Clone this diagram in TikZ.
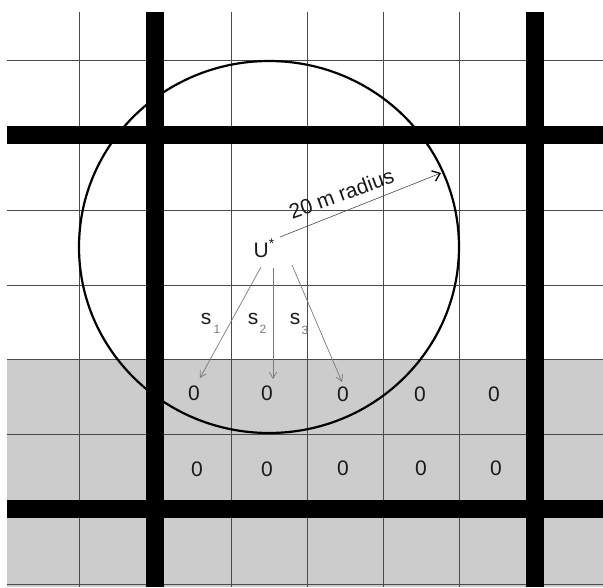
\documentclass[tikz,border=0pt]{standalone}
\usepackage{fontspec}
\setmainfont{Liberation Sans}
\usetikzlibrary{arrows.meta}
\definecolor{cellgray}{HTML}{CCCCCC}
\definecolor{gridline}{HTML}{4A4A4A}
\definecolor{txt}{HTML}{1A1A1A}
\definecolor{arrowgray}{HTML}{7A7A7A}
\begin{document}
\begin{tikzpicture}[x=1pt,y=-1pt,
  gridthin/.style={draw=gridline,line width=0.9pt},
  road/.style={draw=black,line width=18pt},
  zone/.style={draw=black,line width=2.2pt},
  lbl/.style={inner sep=0pt,text=txt,font=\fontsize{21}{24}\selectfont},
  zero/.style={lbl},
  sub/.style={text=arrowgray,font=\fontsize{12}{14}\selectfont,inner sep=0pt},
  sarrow/.style={draw=arrowgray,line width=0.7pt,-{Straight Barb[length=6pt,width=7pt]}},
  rarrow/.style={draw=gridline,line width=0.6pt,-{Straight Barb[length=7pt,width=11pt,line width=1.3pt,color=black]}}]
\useasboundingbox (0,0) rectangle (603,587);
% shaded lower area
\fill[cellgray] (7,359) rectangle (603,587);
% thin grid
\foreach \x in {79,231,307,383,459} \draw[gridthin] (\x,12) -- (\x,587);
\foreach \y in {60,210,285,359,434,584} \draw[gridthin] (7,\y) -- (603,\y);
% circle
\draw[zone] (269,247) ellipse [x radius=190pt, y radius=186pt];
% thick roads
\draw[road] (155,12) -- (155,587);
\draw[road] (535,12) -- (535,587);
\draw[road] (7,135) -- (603,135);
\draw[road] (7,509) -- (603,509);
% U*
\node[lbl] (u) at (264,248) {U\raisebox{0.42em}{\fontsize{14}{16}\selectfont*}};
% radius arrow
\coordinate (rs) at (280,237);
\coordinate (rt) at (441,173);
\draw[rarrow] (rs) -- (rt);
\node[lbl,rotate=20,anchor=south] (rlab) at (344,201) {20 m radius};
% zeros
\node[zero] (z11) at (194,393) {0};
\node[zero] (z12) at (267,393) {0};
\node[zero] (z13) at (343,394) {0};
\node[zero] (z14) at (420,394) {0};
\node[zero] (z15) at (494,394) {0};
\node[zero] (z21) at (197,469) {0};
\node[zero] (z22) at (267,469) {0};
\node[zero] (z23) at (343,468) {0};
\node[zero] (z24) at (421,468) {0};
\node[zero] (z25) at (496,468) {0};
% s arrows
\coordinate (a1) at (261,267);
\coordinate (b1) at (200,378);
\coordinate (a2) at (273,268);
\coordinate (b2) at (273,379);
\coordinate (a3) at (292,265);
\coordinate (b3) at (342,382);
\draw[sarrow] (a1) -- (b1);
\draw[sarrow] (a2) -- (b2);
\draw[sarrow] (a3) -- (b3);
% s labels
\node[lbl] (s1) at (206,319) {s};
\node[sub] (n1) at (217,329) {1};
\node[lbl] (s2) at (253,319) {s};
\node[sub] (n2) at (263,329) {2};
\node[lbl] (s3) at (295,319) {s};
\node[sub] (n3) at (305,330) {3};
\end{tikzpicture}
\end{document}
